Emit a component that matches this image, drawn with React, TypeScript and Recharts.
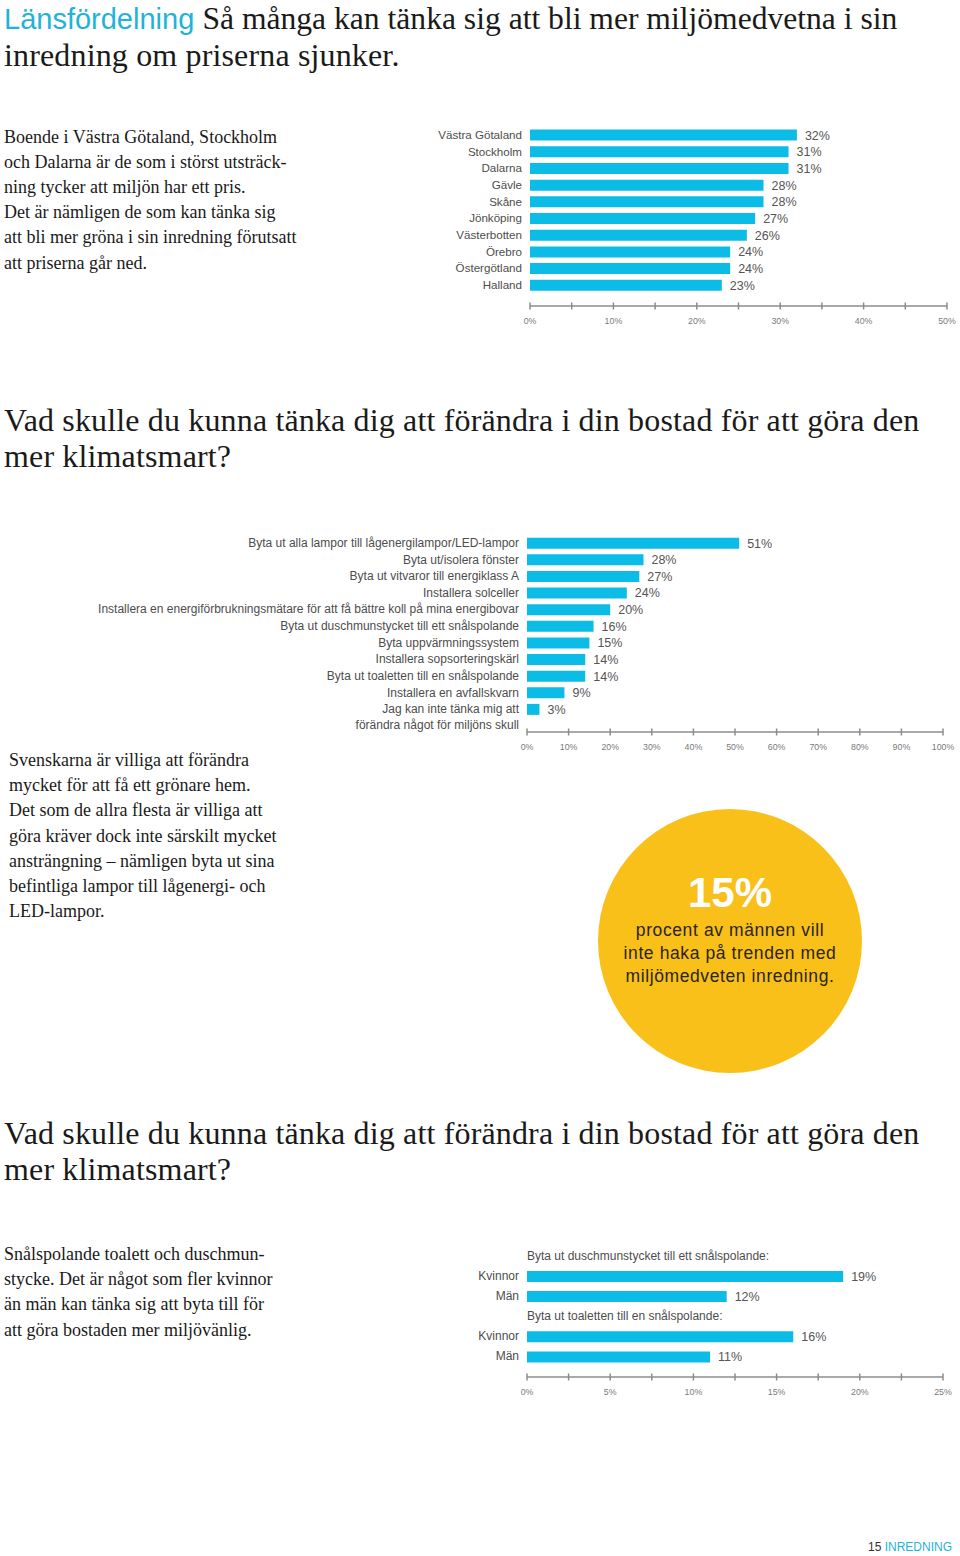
import { BarChart, Bar, XAxis, YAxis, LabelList } from 'recharts';

const BAR_COLOR = '#0bbde6';
const CYAN_TEXT = '#1fb3d9';
const SANS = '"Liberation Sans", Arial, sans-serif';
const SERIF = '"Liberation Serif", "Times New Roman", serif';

// Länsfördelning
const countyNames = ['Västra Götaland', 'Stockholm', 'Dalarna', 'Gävle', 'Skåne', 'Jönköping', 'Västerbotten', 'Örebro', 'Östergötland', 'Halland'];
const countyValues = [32, 31, 31, 28, 28, 27, 26, 24, 24, 23];
const countyTicks = [0, 5, 10, 15, 20, 25, 30, 35, 40, 45, 50];

// Vad skulle du kunna tänka dig att förändra
const changeNames = [
  'Byta ut alla lampor till lågenergilampor/LED-lampor',
  'Byta ut/isolera fönster',
  'Byta ut vitvaror till energiklass A',
  'Installera solceller',
  'Installera en energiförbrukningsmätare för att få bättre koll på mina energibovar',
  'Byta ut duschmunstycket till ett snålspolande',
  'Byta uppvärmningssystem',
  'Installera sopsorteringskärl',
  'Byta ut toaletten till en snålspolande',
  'Installera en avfallskvarn',
  'Jag kan inte tänka mig att\nförändra något för miljöns skull',
];
const changeValues = [51, 28, 27, 24, 20, 16, 15, 14, 14, 9, 3];
const changeTicks = [0, 10, 20, 30, 40, 50, 60, 70, 80, 90, 100];

// Kvinnor / Män
const genderGroups = ['Byta ut duschmunstycket till ett snålspolande:', 'Byta ut toaletten till en snålspolande:'];
const genderNames = ['Kvinnor', 'Män'];
const showerValues = [19, 12];
const toiletValues = [16, 11];
const genderTicks = [0, 2.5, 5, 7.5, 10, 12.5, 15, 17.5, 20, 22.5, 25];

const countyData = countyNames.map((name, i) => ({ name, value: countyValues[i] }));
const changeData = changeNames.map((name, i) => ({ name, value: changeValues[i] }));
const genderData: any[] = [];
[showerValues, toiletValues].forEach((vals, g) => {
  genderData.push({ id: `h${g}`, label: genderGroups[g], header: true });
  genderNames.forEach((n, i) => genderData.push({ id: `r${g}${i}`, label: n, value: vals[i] }));
});

const AxisTick = (props: any) => {
  const { x, y, payload, step } = props;
  const v = payload.value;
  const show = Math.abs(v / step - Math.round(v / step)) < 1e-6;
  return (
    <g>
      <line x1={x} x2={x} y1={y - 3.5} y2={y + 3.5} stroke="#8c8c8c" strokeWidth={1.5} />
      {show && (
        <text x={x} y={y + 18} textAnchor="middle" fontSize={8.8} fill="#7a7a7a" fontFamily={SANS}>
          {v}%
        </text>
      )}
    </g>
  );
};

const CategoryTick = (props: any) => {
  const { x, y, payload, size } = props;
  const lines = String(payload.value).split('\n');
  return (
    <text x={x - 8} y={y} textAnchor="end" fontSize={size} fill="#4d4d4d" fontFamily={SANS}>
      {lines.map((l, i) => (
        <tspan key={i} x={x - 8} dy={i === 0 ? 4 : 16}>{l}</tspan>
      ))}
    </text>
  );
};

const GenderTick = (props: any) => {
  const { x, y, payload } = props;
  const row = genderData.find((d) => d.id === payload.value);
  if (row?.header) {
    return (
      <text x={x} y={y + 4} textAnchor="start" fontSize={12} fill="#4d4d4d" fontFamily={SANS}>
        {row.label}
      </text>
    );
  }
  return (
    <text x={x - 8} y={y + 4} textAnchor="end" fontSize={12} fill="#4d4d4d" fontFamily={SANS}>
      {row?.label}
    </text>
  );
};

const pct = (v: any) => (v == null ? '' : `${v}%`);

const axisLine = { stroke: '#8c8c8c', strokeWidth: 1.5 };

const heading: React.CSSProperties = {
  position: 'absolute', left: 4, fontFamily: SERIF, fontSize: 32, lineHeight: '35.5px', letterSpacing: 0.15, color: '#1a1a1a', whiteSpace: 'nowrap',
};
const para: React.CSSProperties = {
  position: 'absolute', fontFamily: SERIF, fontSize: 18, lineHeight: '25.2px', color: '#1a1a1a', whiteSpace: 'nowrap',
};

export default function App() {
  return (
    <div style={{ position: 'absolute', left: 0, top: 0, width: 960, height: 1556, background: '#fff', overflow: 'hidden' }}>
      <div style={{ ...heading, top: 1 }}>
        <span style={{ fontFamily: SANS, fontSize: 29, letterSpacing: 0, color: CYAN_TEXT }}>Länsfördelning</span>{' '}
        <span style={{ fontSize: 31.6, letterSpacing: 0 }}>Så många kan tänka sig att bli mer miljömedvetna i sin</span><br />
        inredning om priserna sjunker.
      </div>

      <div style={{ ...para, left: 4, top: 124.5 }}>
        Boende i Västra Götaland, Stockholm<br />
        och Dalarna är de som i störst utsträck-<br />
        ning tycker att miljön har ett pris.<br />
        Det är nämligen de som kan tänka sig<br />
        att bli mer gröna i sin inredning förutsatt<br />
        att priserna går ned.
      </div>

      {/* Länsfördelning */}
      <div style={{ position: 'absolute', left: 400, top: 120 }}>
        <BarChart layout="vertical" width={560} height={216} data={countyData} margin={{ top: 6.6, right: 13, bottom: 0, left: 0 }}>
          <XAxis type="number" domain={[0, 50]} ticks={countyTicks} interval={0} tickSize={0} tickMargin={0} height={30}
            axisLine={axisLine} tickLine={false} tick={(p: any) => <AxisTick {...p} step={10} />} />
          <YAxis type="category" dataKey="name" width={130} interval={0} axisLine={false} tickLine={false} tickSize={0} tickMargin={0}
            padding={{ top: 0, bottom: 12.5 }} tick={(p: any) => <CategoryTick {...p} size={11.6} />} />
          <Bar dataKey="value" fill={BAR_COLOR} barSize={11} isAnimationActive={false}>
            <LabelList dataKey="value" position="right" offset={8} formatter={pct} fontSize={12.5} fill="#555" fontFamily={SANS} />
          </Bar>
        </BarChart>
      </div>

      <div style={{ ...heading, top: 403 }}>
        Vad skulle du kunna tänka dig att förändra i din bostad för att göra den<br />
        mer klimatsmart?
      </div>

      {/* Förändringar */}
      <div style={{ position: 'absolute', left: 80, top: 520 }}>
        <BarChart layout="vertical" width={880} height={242} data={changeData} margin={{ top: 14.65, right: 17, bottom: 0, left: 0 }}>
          <XAxis type="number" domain={[0, 100]} ticks={changeTicks} interval={0} tickSize={0} tickMargin={0} height={30}
            axisLine={axisLine} tickLine={false} tick={(p: any) => <AxisTick {...p} step={10} />} />
          <YAxis type="category" dataKey="name" width={447} interval={0} axisLine={false} tickLine={false} tickSize={0} tickMargin={0}
            padding={{ top: 0, bottom: 14.5 }} tick={(p: any) => <CategoryTick {...p} size={12} />} />
          <Bar dataKey="value" fill={BAR_COLOR} barSize={11} isAnimationActive={false}>
            <LabelList dataKey="value" position="right" offset={8} formatter={pct} fontSize={12.5} fill="#555" fontFamily={SANS} />
          </Bar>
        </BarChart>
      </div>

      <div style={{ ...para, left: 9, top: 748 }}>
        Svenskarna är villiga att förändra<br />
        mycket för att få ett grönare hem.<br />
        Det som de allra flesta är villiga att<br />
        göra kräver dock inte särskilt mycket<br />
        ansträngning – nämligen byta ut sina<br />
        befintliga lampor till lågenergi- och<br />
        LED-lampor.
      </div>

      <div style={{ position: 'absolute', left: 598, top: 809, width: 264, height: 264, borderRadius: '50%', background: '#f8c019' }}>
        <div style={{ position: 'absolute', left: 0, width: 264, top: 60, textAlign: 'center', fontFamily: SANS, fontWeight: 'bold', fontSize: 42, lineHeight: '48px', color: '#fff' }}>
          15%
        </div>
        <div style={{ position: 'absolute', left: 0, width: 264, top: 110, textAlign: 'center', fontFamily: SANS, fontSize: 17.5, lineHeight: '23px', letterSpacing: 0.6, color: '#2b2418' }}>
          procent av männen vill<br />
          inte haka på trenden med<br />
          miljömedveten inredning.
        </div>
      </div>

      <div style={{ ...heading, top: 1116 }}>
        Vad skulle du kunna tänka dig att förändra i din bostad för att göra den<br />
        mer klimatsmart?
      </div>

      <div style={{ ...para, left: 4, top: 1242 }}>
        Snålspolande toalett och duschmun-<br />
        stycke. Det är något som fler kvinnor<br />
        än män kan tänka sig att byta till för<br />
        att göra bostaden mer miljövänlig.
      </div>

      {/* Kvinnor / Män */}
      <div style={{ position: 'absolute', left: 440, top: 1230 }}>
        <BarChart layout="vertical" width={520} height={177} data={genderData} margin={{ top: 15.9, right: 17, bottom: 0, left: 0 }}>
          <XAxis type="number" domain={[0, 25]} ticks={genderTicks} interval={0} tickSize={0} tickMargin={0} height={30}
            axisLine={axisLine} tickLine={false} tick={(p: any) => <AxisTick {...p} step={5} />} />
          <YAxis type="category" dataKey="id" width={87} interval={0} axisLine={false} tickLine={false} tickSize={0} tickMargin={0}
            padding={{ top: 0, bottom: 10.5 }} tick={(p: any) => <GenderTick {...p} />} />
          <Bar dataKey="value" fill={BAR_COLOR} barSize={11} isAnimationActive={false}>
            <LabelList dataKey="value" position="right" offset={8} formatter={pct} fontSize={12.5} fill="#555" fontFamily={SANS} />
          </Bar>
        </BarChart>
      </div>

      <div style={{ position: 'absolute', left: 868, top: 1540, fontFamily: SANS, fontSize: 12, lineHeight: '15px', whiteSpace: 'nowrap' }}>
        <span style={{ color: '#333' }}>15</span> <span style={{ color: CYAN_TEXT }}>INREDNING</span>
      </div>
    </div>
  );
}
